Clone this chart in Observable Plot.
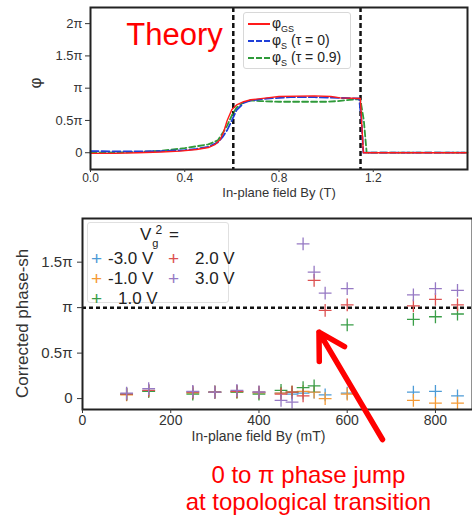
<!DOCTYPE html>
<html><head><meta charset="utf-8">
<script src="https://cdn.jsdelivr.net/npm/d3@7"></script>
<script src="https://cdn.jsdelivr.net/npm/@observablehq/plot@0.6"></script>
<style>
body{margin:0;background:#fff;font-family:"Liberation Sans",Arial,sans-serif;}
#wrap{position:relative;width:472px;height:515px;overflow:hidden;}
.abs{position:absolute;}
.leg1{left:243px;top:12px;width:106px;height:55px;border:1px solid #d8d8d8;border-radius:3px;background:#fff;font-size:14px;color:#222;}
.leg1 .row{position:absolute;left:4px;height:18px;line-height:18px;white-space:nowrap;}
.leg1 .smp{display:inline-block;width:22px;vertical-align:middle;margin-right:2px;}
.leg2{left:87px;top:222px;width:140px;height:79px;border:1px solid #e0e0e0;border-radius:3px;background:#fff;font-size:17px;color:#222;}
.leg2 .it{position:absolute;white-space:nowrap;line-height:20px;}
</style></head>
<body><div id="wrap"></div>
<script>
// ---------- Top panel (theory) ----------
const gsB   = [0, 0.1, 0.2, 0.3, 0.38, 0.45, 0.5, 0.53, 0.55, 0.565, 0.58, 0.6, 0.62, 0.65, 0.68, 0.75, 0.8, 0.95, 1.02, 1.06, 1.145, 1.152, 1.158, 1.6];
const gsPhi = [-0.01, -0.01, 0.0, 0.01, 0.025, 0.05, 0.08, 0.13, 0.2, 0.32, 0.5, 0.67, 0.74, 0.79, 0.82, 0.85, 0.87, 0.88, 0.87, 0.85, 0.84, 0.4, 0.0, 0.0];
const s0B   = [0, 0.1, 0.2, 0.3, 0.4, 0.45, 0.5, 0.54, 0.56, 0.58, 0.6, 0.62, 0.65, 0.68, 0.75, 0.85, 0.95, 1.05, 1.14, 1.15, 1.158, 1.6];
const s0Phi = [0.025, 0.02, 0.02, 0.025, 0.04, 0.06, 0.09, 0.16, 0.24, 0.35, 0.5, 0.66, 0.77, 0.81, 0.84, 0.86, 0.86, 0.85, 0.84, 0.5, 0.0, 0.0];
const s9B   = [0, 0.1, 0.2, 0.3, 0.4, 0.45, 0.5, 0.54, 0.56, 0.58, 0.6, 0.62, 0.65, 0.68, 0.72, 0.8, 0.9, 1.0, 1.05, 1.1, 1.145, 1.16, 1.172, 1.6];
const s9Phi = [0.0, 0.0, 0.01, 0.03, 0.07, 0.1, 0.13, 0.19, 0.3, 0.42, 0.58, 0.7, 0.78, 0.81, 0.8, 0.79, 0.79, 0.79, 0.8, 0.82, 0.83, 0.5, 0.0, 0.0];
const transitionB = [0.606, 1.146];
const topXTicks = [0, 0.4, 0.8, 1.2];
const topYTicks = [0, 0.5, 1, 1.5, 2];

// ---------- Bottom panel (experiment) ----------
const fieldMT = [100, 150, 250, 300, 350, 400, 450, 475, 500, 525, 550, 600, 750, 800, 850];
const seriesNames = ["-3.0 V", "-1.0 V", "1.0 V", "2.0 V", "3.0 V"];
const seriesColors = ["#4d9bd6", "#f59a35", "#3a9e48", "#dc5050", "#9679c4"];
const vgM3 = [0.05, 0.09, 0.07, 0.07, 0.08, 0.07, 0.06, 0.05, 0.06, 0.07, 0.04, 0.06, 0.07, 0.08, 0.03];
const vgM1 = [0.04, 0.08, 0.06, 0.07, 0.07, 0.06, 0.06, 0.07, 0.08, 0.07, 0.0, 0.05, -0.02, -0.05, -0.05];
const vgP1 = [0.05, 0.08, 0.05, 0.07, 0.07, 0.05, 0.09, 0.07, 0.12, 0.14, null, 0.81, 0.87, 0.90, 0.93];
const vgP2 = [0.05, 0.09, 0.07, 0.07, 0.08, 0.07, 0.05, 0.07, 0.03, 1.30, 0.97, 1.03, 1.02, 1.09, 1.03];
const vgP3 = [0.06, 0.11, 0.08, 0.07, 0.09, 0.07, -0.02, -0.04, 1.70, 1.39, 1.16, 1.21, 1.14, 1.21, 1.19];
const botXTicks = [0, 200, 400, 600, 800];
const botYTicks = [0, 0.5, 1, 1.5];

const piFmt = d => d === 0 ? "0" : d === 1 ? "π" : d + "π";
const font = '"Liberation Sans", Arial, sans-serif';

const toRows = (xs, ys, key) => xs.map((x, i) => ({x, y: ys[i], s: key})).filter(d => d.y != null);
const theory = [
  ...toRows(gsB, gsPhi, "gs"),
  ...toRows(s0B, s0Phi, "s0"),
  ...toRows(s9B, s9Phi, "s9")
];
const expt = [vgM3, vgM1, vgP1, vgP2, vgP3].flatMap((ys, k) => toRows(fieldMT, ys, seriesNames[k]));

const topPlot = Plot.plot({
  width: 472, height: 205,
  marginLeft: 90, marginRight: 5, marginTop: 7, marginBottom: 36,
  style: {fontFamily: font, fontSize: "13px", color: "#333", background: "transparent", overflow: "visible"},
  x: {domain: [0, 1.6], label: null},
  y: {domain: [-0.26, 2.25], label: null},
  marks: [
    Plot.ruleX(transitionB, {stroke: "#111", strokeWidth: 2.5, strokeDasharray: "5,3"}),
    Plot.line(theory.filter(d => d.s === "s9"), {x: "x", y: "y", stroke: "#2f9a3a", strokeWidth: 1.8, strokeDasharray: "6,3"}),
    Plot.line(theory.filter(d => d.s === "s0"), {x: "x", y: "y", stroke: "#1f3fd8", strokeWidth: 1.8, strokeDasharray: "8,3"}),
    Plot.line(theory.filter(d => d.s === "gs"), {x: "x", y: "y", stroke: "#ff1a1a", strokeWidth: 1.4}),
    Plot.frame({stroke: "#222", strokeWidth: 2}),
    Plot.axisX({ticks: topXTicks, tickFormat: d3.format(".1f"), tickSize: 3, tickPadding: 1, fontSize: 12, label: null}),
    Plot.axisY({ticks: topYTicks, tickFormat: piFmt, tickSize: 5, tickPadding: 3, fontSize: 13, label: null}),
    Plot.text(["Theory"], {frameAnchor: "top-left", dx: 84, dy: 15, fill: "#ff0000", fontSize: 31, textAnchor: "middle"}),
    Plot.text(["In-plane field By (T)"], {frameAnchor: "bottom", dy: 27, fill: "#333", fontSize: 13}),
    Plot.text(["φ"], {frameAnchor: "left", dx: -55, rotate: -90, fill: "#333", fontSize: 17})
  ]
});

const botPlot = Plot.plot({
  width: 472, height: 310,
  marginLeft: 82, marginRight: 0, marginTop: 13, marginBottom: 106,
  style: {fontFamily: font, fontSize: "14px", color: "#333", background: "transparent", overflow: "visible"},
  x: {domain: [0, 884], label: null},
  y: {domain: [-0.12, 1.98], label: null},
  color: {domain: seriesNames, range: seriesColors},
  marks: [
    Plot.ruleY([1], {stroke: "#111", strokeWidth: 2.5, strokeDasharray: "4,3"}),
    Plot.dot(expt, {x: "x", y: "y", stroke: "s", symbol: "plus", r: 4.2, strokeWidth: 1.3}),
    Plot.frame({stroke: "#222", strokeWidth: 2}),
    Plot.axisX({ticks: botXTicks, tickSize: 4, tickPadding: 2, fontSize: 14, label: null}),
    Plot.axisY({ticks: botYTicks, tickFormat: piFmt, tickSize: 5, tickPadding: 5, fontSize: 15, label: null}),
    Plot.text(["In-plane field By (mT)"], {frameAnchor: "bottom", dy: 31, fill: "#333", fontSize: 14, dx: -19}),
    Plot.arrow([{x1: 680, y1: -0.45, x2: 536, y2: 0.73}], {x1: "x1", y1: "y1", x2: "x2", y2: "y2", stroke: "#ff0000", strokeWidth: 5.5, headLength: 8, clip: false}),
    Plot.text(["0 to π phase jump\nat topological transition"], {x: () => 512, y: () => -0.98, fill: "#ff0000", fontSize: 24, lineHeight: 1.13, clip: false})
  ]
});

const wrap = document.getElementById("wrap");
const t = document.createElement("div"); t.className = "abs"; t.style.left = "0px"; t.style.top = "0px"; t.appendChild(topPlot);
const b = document.createElement("div"); b.className = "abs"; b.style.left = "0px"; b.style.top = "205px"; b.appendChild(botPlot);
wrap.appendChild(t); wrap.appendChild(b);

// legend for top panel
const leg1 = document.createElement("div"); leg1.className = "abs leg1";
leg1.innerHTML =
  `<div class="row" style="top:1px"><span class="smp" style="border-top:2px solid #ff1a1a"></span>φ<sub style="font-size:9px">GS</sub></div>` +
  `<div class="row" style="top:18px"><span class="smp" style="border-top:2px dashed #1f3fd8"></span>φ<sub style="font-size:9px">S</sub> (τ = 0)</div>` +
  `<div class="row" style="top:35px"><span class="smp" style="border-top:2px dashed #2f9a3a"></span>φ<sub style="font-size:9px">S</sub> (τ = 0.9)</div>`;
wrap.appendChild(leg1);

// legend for bottom panel
const leg2 = document.createElement("div"); leg2.className = "abs leg2";
const pos = [[3, 26], [3, 46], [3, 66], [80, 26], [80, 46]];
let html = `<div class="it" style="left:52px;top:2px">V<span style="font-size:11px;position:relative;top:7px;left:1px">g</span><span style="font-size:12px;position:relative;top:-6px;left:-2px">2</span> =</div>`;
seriesNames.forEach((n, i) => {
  const [lx, ly] = pos[i];
  html += `<div class="it" style="left:${lx}px;top:${ly}px"><span style="color:${seriesColors[i]};font-size:19px;font-weight:300">+</span></div>`;
  html += `<div class="it" style="left:${lx + (n[0] === "-" ? 17 : 27)}px;top:${ly}px">${n}</div>`;
});
leg2.innerHTML = html;
wrap.appendChild(leg2);

// clipped y-axis label of the bottom panel (cut off as in the original)
const NS = "http://www.w3.org/2000/svg";
const ysvg = document.createElementNS(NS, "svg");
ysvg.setAttribute("width", "30"); ysvg.setAttribute("height", "150");
ysvg.style.position = "absolute"; ysvg.style.left = "8px"; ysvg.style.top = "249px"; ysvg.style.overflow = "hidden";
const ytxt = document.createElementNS(NS, "text");
ytxt.setAttribute("transform", "translate(20,149) rotate(-90)");
ytxt.setAttribute("font-family", font); ytxt.setAttribute("font-size", "17"); ytxt.setAttribute("fill", "#333");
ytxt.textContent = "Corrected phase-shift";
ysvg.appendChild(ytxt);
wrap.appendChild(ysvg);
</script></body></html>
